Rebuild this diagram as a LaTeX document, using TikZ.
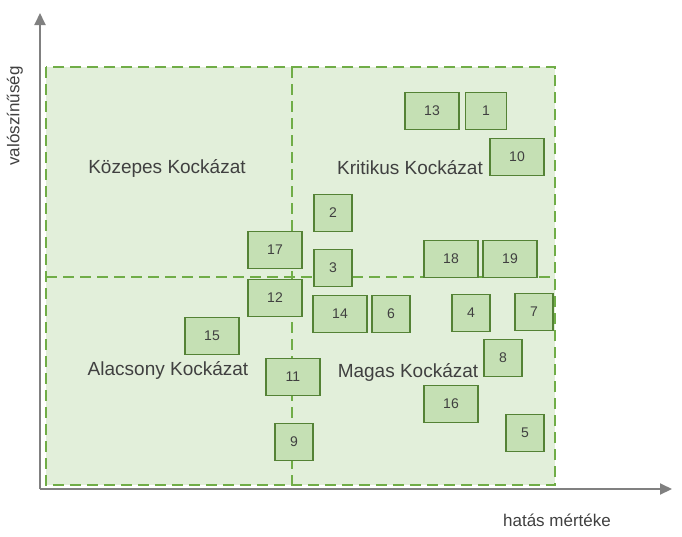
\documentclass[tikz,border=0pt]{standalone}
\usepackage{fontspec}
\setmainfont{Liberation Sans}
\usetikzlibrary{arrows.meta}
\definecolor{quad_fill}{RGB}{226,239,218}
\definecolor{quad_edge}{RGB}{112,173,71}
\definecolor{box_fill}{RGB}{197,224,180}
\definecolor{box_edge}{RGB}{84,130,53}
\definecolor{axis_gray}{RGB}{128,128,128}
\definecolor{text_gray}{RGB}{64,64,64}

\begin{document}
\begin{tikzpicture}[x=1pt,y=-1pt]
    \tikzstyle{quad}=[draw=quad_edge, line width=2.6pt, dash pattern=on 11pt off 6pt]
    \tikzstyle{risk}=[draw=box_edge, fill=box_fill, line width=1.2pt, minimum width=38pt, minimum height=37pt, inner sep=0pt, font=\fontsize{14}{16}\selectfont, text=text_gray]
    \tikzstyle{wide}=[style=risk, minimum width=54pt]
    \tikzstyle{zone}=[font=\fontsize{19}{22}\selectfont, text=text_gray, inner sep=0pt]
    \useasboundingbox (0,0) rectangle (682,536);

    % quadrants
    \fill[quad_fill] (46,67) rectangle (555,485);
    \draw[quad] (46,67) rectangle (555,485);
    \draw[quad] (292,67) -- (292,485);
    \draw[quad] (46,277) -- (555,277);

    % axes
    \coordinate (o) at (40,489);
    \coordinate (ytip) at (40,13);
    \coordinate (xtip) at (672,489);
    \draw[axis_gray, line width=2pt, -{Triangle[length=12pt,width=11pt]}] (o) -- (ytip);
    \draw[axis_gray, line width=2pt, -{Triangle[length=12pt,width=11pt]}] (o) -- (xtip);
    \node[font=\fontsize{17}{20}\selectfont, text=text_gray] (xlab) at (557,520) {hatás mértéke};
    \node[font=\fontsize{17}{20}\selectfont, text=text_gray, rotate=90] (ylab) at (15,116) {valószínűség};

    \node[zone] (kozepes)   at (167,168) {Közepes Kockázat};
    \node[zone] (kritikus)  at (410,168) {Kritikus Kockázat};
    \node[zone] (alacsony)  at (168,370) {Alacsony Kockázat};
    \node[zone] (magas)     at (408,372) {Magas Kockázat};

    % risks
    \node[wide] (r13) at (432,111) {13};
    \node[risk, minimum width=41pt] (r1)  at (486,111) {1};
    \node[wide] (r10) at (517,157) {10};
    \node[risk] (r2)  at (333,213) {2};
    \node[wide] (r17) at (275,250) {17};
    \node[risk] (r3)  at (333,268) {3};
    \node[wide] (r18) at (451,259) {18};
    \node[wide] (r19) at (510,259) {19};
    \node[wide] (r12) at (275,298) {12};
    \node[wide] (r14) at (340,314) {14};
    \node[risk] (r6)  at (391,314) {6};
    \node[risk] (r4)  at (471,313) {4};
    \node[risk] (r7)  at (534,312) {7};
    \node[wide] (r15) at (212,336) {15};
    \node[risk] (r8)  at (503,358) {8};
    \node[wide] (r11) at (293,377) {11};
    \node[wide] (r16) at (451,404) {16};
    \node[risk] (r5)  at (525,433) {5};
    \node[risk] (r9)  at (294,442) {9};
\end{tikzpicture}
\end{document}
